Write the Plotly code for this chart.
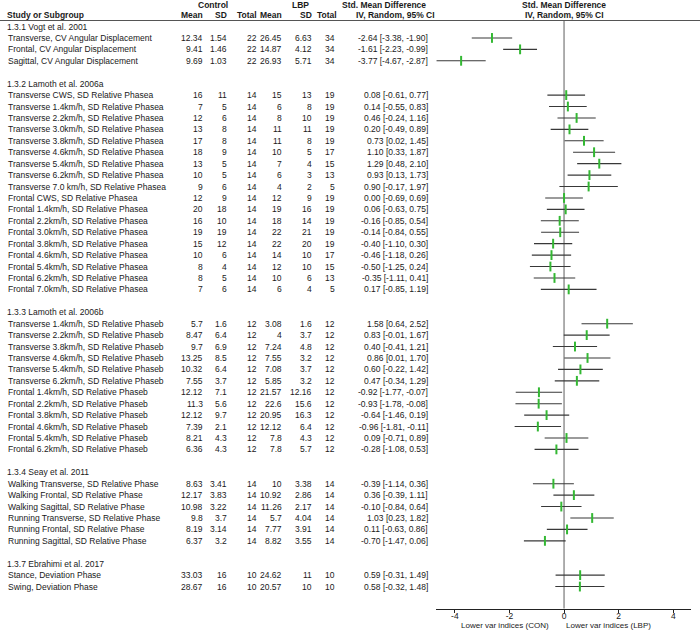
import plotly.graph_objects as go

# Subgroups and how many rows belong to each
group_names = [
    "1.3.1 Vogt et al. 2001",
    "1.3.2 Lamoth et al. 2006a",
    "1.3.3 Lamoth et al. 2006b",
    "1.3.4 Seay et al. 2011",
    "1.3.7 Ebrahimi et al. 2017",
]
group_sizes = [3, 18, 12, 6, 2]

study_labels = [
    "Transverse, CV Angular Displacement",
    "Frontal, CV Angular Displacement",
    "Sagittal, CV Angular Displacement",
    "Transverse CWS, SD Relative Phasea",
    "Transverse 1.4km/h, SD Relative Phasea",
    "Transverse 2.2km/h, SD Relative Phasea",
    "Transverse 3.0km/h, SD Relative Phasea",
    "Transverse 3.8km/h, SD Relative Phasea",
    "Transverse 4.6km/h, SD Relative Phasea",
    "Transverse 5.4km/h, SD Relative Phasea",
    "Transverse 6.2km/h, SD Relative Phasea",
    "Transverse 7.0 km/h, SD Relative Phasea",
    "Frontal CWS, SD Relative Phasea",
    "Frontal 1.4km/h, SD Relative Phasea",
    "Frontal 2.2km/h, SD Relative Phasea",
    "Frontal 3.0km/h, SD Relative Phasea",
    "Frontal 3.8km/h, SD Relative Phasea",
    "Frontal 4.6km/h, SD Relative Phasea",
    "Frontal 5.4km/h, SD Relative Phasea",
    "Frontal 6.2km/h, SD Relative Phasea",
    "Frontal 7.0km/h, SD Relative Phasea",
    "Transverse 1.4km/h, SD Relative Phaseb",
    "Transverse 2.2km/h, SD Relative Phaseb",
    "Transverse 3.8km/h, SD Relative Phaseb",
    "Transverse 4.6km/h, SD Relative Phaseb",
    "Transverse 5.4km/h, SD Relative Phaseb",
    "Transverse 6.2km/h, SD Relative Phaseb",
    "Frontal 1.4km/h, SD Relative Phaseb",
    "Frontal 2.2km/h, SD Relative Phaseb",
    "Frontal 3.8km/h, SD Relative Phaseb",
    "Frontal 4.6km/h, SD Relative Phaseb",
    "Frontal 5.4km/h, SD Relative Phaseb",
    "Frontal 6.2km/h, SD Relative Phaseb",
    "Walking Transverse, SD Relative Phase",
    "Walking Frontal, SD Relative Phase",
    "Walking Sagittal, SD Relative Phase",
    "Running Transverse, SD Relative Phase",
    "Running Frontal, SD Relative Phase",
    "Running Sagittal, SD Relative Phase",
    "Stance, Deviation Phase",
    "Swing, Deviation Phase",
]

ctrl_mean = [12.34, 9.41, 9.69,
             16, 7, 12, 13, 17, 18, 13, 10, 9, 12, 20, 16, 19, 15, 10, 8, 8, 7,
             5.7, 8.47, 9.7, 13.25, 10.32, 7.55, 12.12, 11.3, 12.12, 7.39, 8.21, 6.36,
             8.63, 12.17, 10.98, 9.8, 8.19, 6.37,
             33.03, 28.67]
ctrl_sd = [1.54, 1.46, 1.03,
           11, 5, 6, 8, 8, 9, 5, 5, 6, 9, 18, 10, 19, 12, 6, 4, 5, 6,
           1.6, 6.4, 6.9, 8.5, 6.4, 3.7, 7.1, 5.6, 9.7, 2.1, 4.3, 4.3,
           3.41, 3.83, 3.22, 3.7, 3.14, 3.2,
           16, 16]
ctrl_n = [22, 22, 22,
          14, 14, 14, 14, 14, 14, 14, 14, 14, 14, 14, 14, 14, 14, 14, 14, 14, 14,
          12, 12, 12, 12, 12, 12, 12, 12, 12, 12, 12, 12,
          14, 14, 14, 14, 14, 14,
          10, 10]
lbp_mean = [26.45, 14.87, 26.93,
            15, 6, 8, 11, 11, 10, 7, 6, 4, 12, 19, 18, 22, 22, 14, 12, 10, 6,
            3.08, 4, 7.24, 7.55, 7.08, 5.85, 21.57, 22.6, 20.95, 12.12, 7.8, 7.8,
            10, 10.92, 11.26, 5.7, 7.77, 8.82,
            24.62, 20.57]
lbp_sd = [6.63, 4.12, 5.71,
          13, 8, 10, 11, 8, 5, 4, 3, 2, 9, 16, 14, 21, 20, 10, 10, 6, 4,
          1.6, 3.7, 4.8, 3.2, 3.7, 3.2, 12.16, 15.6, 16.3, 6.4, 4.3, 5.7,
          3.38, 2.86, 2.17, 4.04, 3.91, 3.55,
          11, 10]
lbp_n = [34, 34, 34,
         19, 19, 19, 19, 19, 17, 15, 13, 5, 19, 19, 19, 19, 19, 17, 15, 13, 5,
         12, 12, 12, 12, 12, 12, 12, 12, 12, 12, 12, 12,
         14, 14, 14, 14, 14, 14,
         10, 10]

smd = [-2.64, -1.61, -3.77,
       0.08, 0.14, 0.46, 0.20, 0.73, 1.10, 1.29, 0.93, 0.90,
       0.00, 0.06, -0.16, -0.14, -0.40, -0.46, -0.50, -0.35, 0.17,
       1.58, 0.83, 0.40, 0.86, 0.60, 0.47, -0.92, -0.93, -0.64, -0.96, 0.09, -0.28,
       -0.39, 0.36, -0.10, 1.03, 0.11, -0.70,
       0.59, 0.58]
ci_low = [-3.38, -2.23, -4.67,
          -0.61, -0.55, -0.24, -0.49, 0.02, 0.33, 0.48, 0.13, -0.17,
          -0.69, -0.63, -0.85, -0.84, -1.10, -1.18, -1.25, -1.11, -0.85,
          0.64, -0.01, -0.41, 0.01, -0.22, -0.34, -1.77, -1.78, -1.46, -1.81, -0.71, -1.08,
          -1.14, -0.39, -0.84, 0.23, -0.63, -1.47,
          -0.31, -0.32]
ci_high = [-1.90, -0.99, -2.87,
           0.77, 0.83, 1.16, 0.89, 1.45, 1.87, 2.10, 1.73, 1.97,
           0.69, 0.75, 0.54, 0.55, 0.30, 0.26, 0.24, 0.41, 1.19,
           2.52, 1.67, 1.21, 1.70, 1.42, 1.29, -0.07, -0.08, 0.19, -0.11, 0.89, 0.53,
           0.36, 1.11, 0.64, 1.82, 0.86, 0.06,
           1.49, 1.48]

tick_vals = [-4, -2, 0, 2, 4]
tick_text = ["-4", "-2", "0", "2", "4"]
favours_left = "Lower var indices (CON)"
favours_right = "Lower var indices (LBP)"

# layout in pixels
W, H = 700, 631
FONT = "Liberation Sans, Arial, sans-serif"
FS = 8.5
TOP_LINE = 20.5
FIRST_LINE = 26.5
STEP = 11.43
AXIS_Y = 608.5

# work out a line position for each subgroup title and each row
group_y = []
row_y = []
line = 0
for size in group_sizes:
    group_y.append(FIRST_LINE + line * STEP)
    line += 1
    for _ in range(size):
        row_y.append(FIRST_LINE + line * STEP)
        line += 1
    line += 1  # blank line between subgroups

annotations = []


def txt(x, y, s, anchor="left", bold=False, size=FS):
    annotations.append(dict(
        x=x / W, y=y, xref="paper", yref="y", text=f"<b>{s}</b>" if bold else s,
        showarrow=False, xanchor=anchor, yanchor="middle", borderpad=0,
        font=dict(family=FONT, size=size, color="#1a1a1a"),
    ))


def fmt(v):
    return f"{v:g}"


# header
txt(213, 5, "Control", "center", True)
txt(300, 5, "LBP", "center", True)
txt(384, 5, "Std. Mean Difference", "center", True)
txt(564, 5, "Std. Mean Difference", "center", True)
txt(6, 15, "Study or Subgroup", "left", True)
for xpos, head in [(204, "Mean"), (228, "SD"), (258, "Total"), (283, "Mean"),
                   (313, "SD"), (338, "Total")]:
    txt(xpos, 15, head, "right", True)
txt(395, 15, "IV, Random, 95% CI", "center", True)
txt(564, 15, "IV, Random, 95% CI", "center", True)

for name, y in zip(group_names, group_y):
    txt(6, y, name)

cols = [(204, ctrl_mean), (228, ctrl_sd), (258, ctrl_n),
        (283, lbp_mean), (313, lbp_sd), (336, lbp_n)]
for i, y in enumerate(row_y):
    txt(7, y, study_labels[i])
    for xpos, vals in cols:
        txt(xpos, y, fmt(vals[i]), "right")
    txt(429, y, f"{smd[i]:.2f} [{ci_low[i]:.2f}, {ci_high[i]:.2f}]", "right")

txt(550, 625.5, favours_left, "right", size=8)
txt(565, 625.5, favours_right, "left", size=8)

fig = go.Figure()

fig.add_trace(go.Scatter(
    x=smd, y=row_y, mode="markers",
    marker=dict(symbol="line-ns-open", size=7, color="#33b833",
                line=dict(color="#33b833", width=2)),
    error_x=dict(type="data", symmetric=False,
                 array=[h - m for h, m in zip(ci_high, smd)],
                 arrayminus=[m - l for m, l in zip(smd, ci_low)],
                 width=0, thickness=1.1, color="#383838"),
    hoverinfo="skip", showlegend=False,
))

fig.update_layout(
    width=W, height=H,
    margin=dict(l=0, r=0, t=0, b=0),
    paper_bgcolor="white", plot_bgcolor="rgba(0,0,0,0)",
    font=dict(family=FONT, size=FS, color="#1a1a1a"),
    xaxis=dict(
        domain=[436 / W, 691 / W], range=[-4.69, 4.65],
        anchor="free", position=(H - AXIS_Y) / H,
        showline=True, linecolor="#222", linewidth=1,
        ticks="outside", ticklen=3, tickcolor="#222",
        ticklabelstandoff=-4,
        tickvals=tick_vals, ticktext=tick_text,
        showgrid=False, zeroline=False,
        tickfont=dict(family=FONT, size=FS, color="#1a1a1a"),
    ),
    yaxis=dict(domain=[0, 1], range=[H, 0], visible=False,
               showgrid=False, zeroline=False),
    annotations=annotations,
    shapes=[
        dict(type="line", xref="paper", yref="y", x0=0, x1=1,
             y0=TOP_LINE, y1=TOP_LINE, line=dict(color="#555", width=1)),
        dict(type="line", xref="x", yref="y", x0=0, x1=0,
             y0=TOP_LINE, y1=AXIS_Y, line=dict(color="#9a9a9a", width=1.6),
             layer="below"),
    ],
)

# page body has a default margin; drop it so the figure sits at the corner
fig.write_html("out.html", config={"displayModeBar": False},
               post_script="document.body.style.margin='0';")
